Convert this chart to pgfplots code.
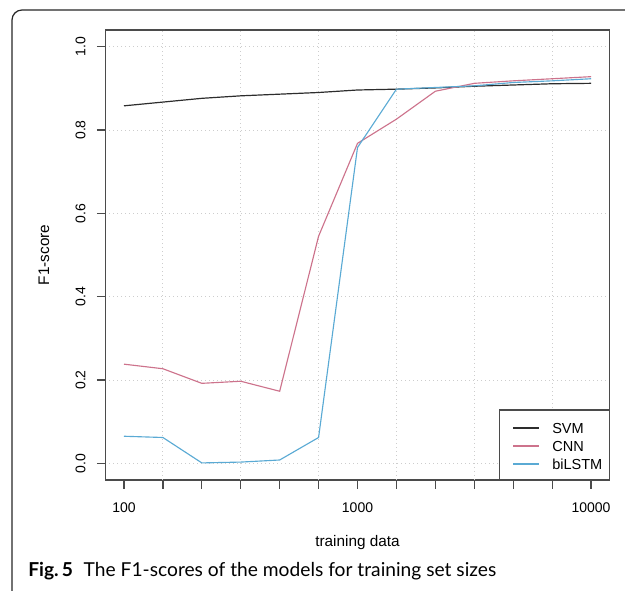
\documentclass[border=0pt]{standalone}
\usepackage{pgfplots}
\pgfplotsset{compat=1.18}
\usepackage{fontspec}
\setmainfont{Liberation Sans}
\newfontfamily\capfont{Lato}
\definecolor{axisgray}{RGB}{75,75,75}
\definecolor{gridgray}{RGB}{205,205,205}
\definecolor{svmcol}{RGB}{45,45,45}
\definecolor{cnncol}{RGB}{205,115,140}
\definecolor{lstmcol}{RGB}{90,170,212}
\begin{document}
\begin{tikzpicture}
\useasboundingbox (0pt,0pt) rectangle (468.75pt,-443.25pt);
\clip (0pt,0pt) rectangle (468.75pt,-443.25pt);
\draw[line width=0.9pt, black!85, rounded corners=7.5pt] (9pt,-7.5pt) rectangle (490pt,-452pt);
\begin{axis}[
  at={(78.975pt,-22.5pt)}, anchor=north west,
  scale only axis, width=378.3pt, height=337.5pt,
  xmode=log, xmin=83.176, xmax=12022.6,
  ymin=-0.04, ymax=1.04,
  axis line style={draw=axisgray, line width=0.9pt},
  tick align=outside, tick pos=left,
  major tick length=6.4pt,
  tick style={draw=axisgray, line width=0.9pt},
  xtick={100,146.78,215.44,316.23,464.16,681.29,1000,1467.8,2154.4,3162.3,4641.6,6812.9,10000},
  xticklabels={100,,,,,,1000,,,,,,10000},
  ytick={0,0.2,0.4,0.6,0.8,1.0},
  yticklabels={0.0,0.2,0.4,0.6,0.8,1.0},
  minor tick num=0,
  /pgf/number format/assume math mode=true,
  tick label style={font=\fontsize{10.5}{12}\selectfont, inner sep=0pt},
  xticklabel style={anchor=north, yshift=-10.5pt},
  yticklabel style={rotate=90, anchor=south, yshift=8.25pt},
  ymajorgrids,
  extra x ticks={146.78,316.23,681.29,1467.8,3162.3,6812.9},
  extra x tick labels={},
  extra x tick style={grid=major, major tick length=0pt, tick style={draw=none}},
  grid style={draw=gridgray, line width=0.7pt, dash pattern=on 0.75pt off 2.25pt},
  xlabel={training data},
  ylabel={F1-score},
  label style={font=\fontsize{11.5}{13}\selectfont},
  xlabel style={at={(axis description cs:0.5,-0.14)}, anchor=center},
  ylabel style={at={(axis description cs:-0.1215,0.5)}, anchor=center, rotate=0},
]
\addplot[svmcol, line width=0.9pt] coordinates {
(100,0.858) (146.78,0.867) (215.44,0.876) (316.23,0.882) (464.16,0.886) (681.29,0.890)
(1000,0.896) (1467.8,0.898) (2154.4,0.901) (3162.3,0.905) (4641.6,0.908) (6812.9,0.911) (10000,0.912)};
\addplot[cnncol, line width=0.85pt] coordinates {
(100,0.238) (146.78,0.227) (215.44,0.192) (316.23,0.197) (464.16,0.173) (681.29,0.545)
(1000,0.768) (1467.8,0.826) (2154.4,0.893) (3162.3,0.912) (4641.6,0.918) (6812.9,0.923) (10000,0.928)};
\addplot[lstmcol, line width=0.85pt] coordinates {
(100,0.065) (146.78,0.062) (215.44,0.001) (316.23,0.003) (464.16,0.008) (681.29,0.062)
(1000,0.758) (1467.8,0.898) (2154.4,0.902) (3162.3,0.906) (4641.6,0.914) (6812.9,0.918) (10000,0.923)};
\end{axis}
% legend (R style, bottom right, touching the axis corner)
\draw[axisgray, line width=0.9pt, fill=white] (374.5pt,-307.5pt) rectangle (457.3pt,-360pt);
\draw[svmcol, line width=0.85pt] (384.75pt,-321pt) -- (404.25pt,-321pt);
\draw[cnncol, line width=0.85pt] (384.75pt,-334.5pt) -- (404.25pt,-334.5pt);
\draw[lstmcol, line width=0.85pt] (384.75pt,-348pt) -- (404.25pt,-348pt);
\begin{scope}[every node/.style={anchor=base west, inner sep=0pt, font=\fontsize{10.9}{12}\selectfont}]
\node at (414pt,-324.9pt) {SVM};
\node at (414pt,-338.4pt) {CNN};
\node at (414pt,-351.9pt) {biLSTM};
\end{scope}
\node[anchor=base west, inner sep=0pt] at (21pt,-432pt)
  {\capfont\fontsize{14.4}{16}\selectfont\textbf{Fig.\,5}\hspace{8pt}The F1-scores of the models for training set sizes};
\end{tikzpicture}
\end{document}
